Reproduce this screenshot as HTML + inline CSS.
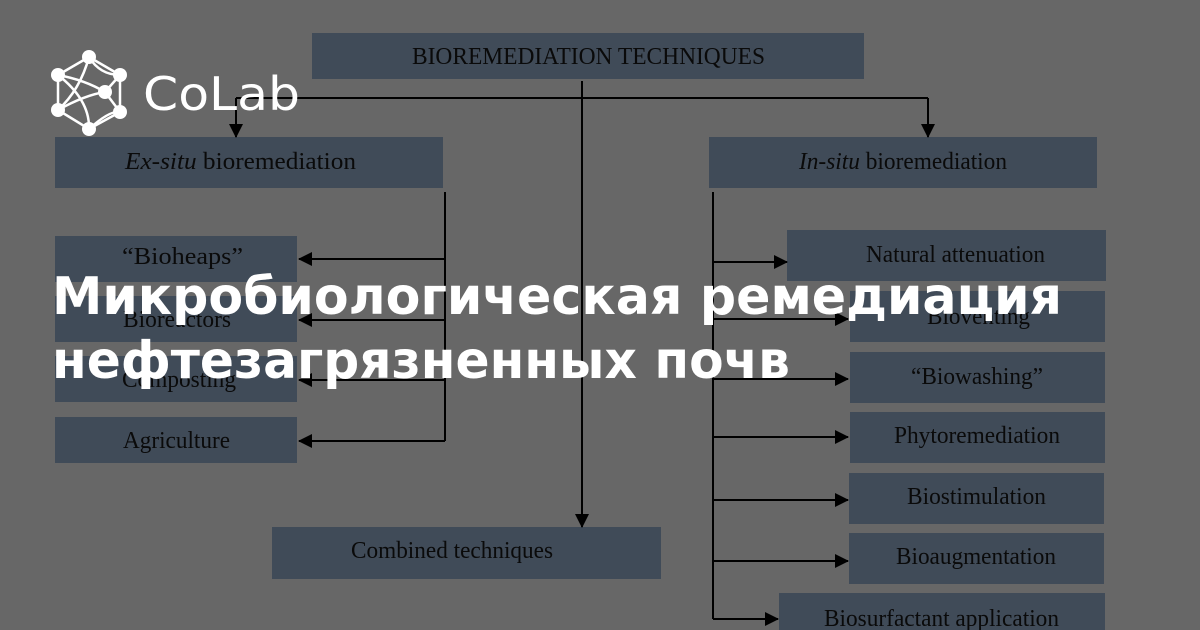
<!DOCTYPE html>
<html><head><meta charset="utf-8"><style>
html,body{margin:0;padding:0;background:#676767;}
svg{display:block}
</style></head><body>
<svg width="1200" height="630" viewBox="0 0 1200 630" xmlns="http://www.w3.org/2000/svg">
<defs>
<marker id="b" markerWidth="14" markerHeight="14" refX="13" refY="7" orient="auto" markerUnits="userSpaceOnUse">
<path d="M0,0 L14,7 L0,14 z" fill="#000"/>
</marker>
</defs>
<rect width="1200" height="630" fill="#676767"/>
<g fill="#404b58">
<rect x="312" y="33" width="552" height="46"/>
<rect x="55" y="137" width="388" height="51"/>
<rect x="709" y="137" width="388" height="51"/>
<rect x="55" y="236" width="242" height="46"/>
<rect x="55" y="296" width="242" height="46"/>
<rect x="55" y="356" width="242" height="46"/>
<rect x="55" y="417" width="242" height="46"/>
<rect x="787" y="230" width="319" height="51"/>
<rect x="850" y="291" width="255" height="51"/>
<rect x="850" y="352" width="255" height="51"/>
<rect x="850" y="412" width="255" height="51"/>
<rect x="849" y="473" width="255" height="51"/>
<rect x="849" y="533" width="255" height="51"/>
<rect x="779" y="593" width="326" height="40"/>
<rect x="272" y="527" width="389" height="52"/>
</g>
<g stroke="#000" stroke-width="2" fill="none">
<line x1="236" y1="98" x2="928" y2="98"/>
<line x1="236" y1="98" x2="236" y2="137" marker-end="url(#b)"/>
<line x1="928" y1="98" x2="928" y2="137" marker-end="url(#b)"/>
<line x1="582" y1="81" x2="582" y2="527" marker-end="url(#b)"/>
<line x1="445" y1="192" x2="445" y2="441"/>
<line x1="445" y1="259" x2="299" y2="259" marker-end="url(#b)"/>
<line x1="445" y1="320" x2="299" y2="320" marker-end="url(#b)"/>
<line x1="445" y1="380" x2="299" y2="380" marker-end="url(#b)"/>
<line x1="445" y1="441" x2="299" y2="441" marker-end="url(#b)"/>
<line x1="713" y1="192" x2="713" y2="619"/>
<line x1="713" y1="262" x2="787" y2="262" marker-end="url(#b)"/>
<line x1="713" y1="319" x2="848" y2="319" marker-end="url(#b)"/>
<line x1="713" y1="379" x2="848" y2="379" marker-end="url(#b)"/>
<line x1="713" y1="437" x2="848" y2="437" marker-end="url(#b)"/>
<line x1="713" y1="500" x2="848" y2="500" marker-end="url(#b)"/>
<line x1="713" y1="561" x2="848" y2="561" marker-end="url(#b)"/>
<line x1="713" y1="619" x2="778" y2="619" marker-end="url(#b)"/>
</g>
<g font-family="'Liberation Serif', serif" font-size="24" fill="#0a0a0a" lengthAdjust="spacingAndGlyphs">
<text x="412" y="64" textLength="353" lengthAdjust="spacingAndGlyphs">BIOREMEDIATION TECHNIQUES</text>
<text x="125" y="169" textLength="231" lengthAdjust="spacingAndGlyphs"><tspan font-style="italic">Ex-situ</tspan> bioremediation</text>
<text x="799" y="169" textLength="208" lengthAdjust="spacingAndGlyphs"><tspan font-style="italic">In-situ</tspan> bioremediation</text>
<text x="122" y="264" textLength="121" lengthAdjust="spacingAndGlyphs">“Bioheaps”</text>
<text x="123" y="327" textLength="108" lengthAdjust="spacingAndGlyphs">Bioreactors</text>
<text x="122" y="387" textLength="114" lengthAdjust="spacingAndGlyphs">Composting</text>
<text x="123" y="448" textLength="107" lengthAdjust="spacingAndGlyphs">Agriculture</text>
<text x="866" y="262" textLength="179" lengthAdjust="spacingAndGlyphs">Natural attenuation</text>
<text x="927" y="324" textLength="103" lengthAdjust="spacingAndGlyphs">Bioventing</text>
<text x="911" y="384" textLength="132" lengthAdjust="spacingAndGlyphs">“Biowashing”</text>
<text x="894" y="443" textLength="166" lengthAdjust="spacingAndGlyphs">Phytoremediation</text>
<text x="907" y="504" textLength="139" lengthAdjust="spacingAndGlyphs">Biostimulation</text>
<text x="896" y="564" textLength="160" lengthAdjust="spacingAndGlyphs">Bioaugmentation</text>
<text x="824" y="626" textLength="235" lengthAdjust="spacingAndGlyphs">Biosurfactant application</text>
<text x="351" y="558" textLength="202" lengthAdjust="spacingAndGlyphs">Combined techniques</text>
</g>
<g stroke="#fff" stroke-width="2.5" fill="none">
<path d="M89,57 L120,75 L120,112 L89,129 L58,110 L58,75 Z"/>
<path d="M89,57 Q80,90 58,110"/>
<path d="M58,75 Q90,100 89,129"/>
<path d="M58,75 Q85,80 105,92 L120,75"/>
<path d="M58,110 Q85,95 105,92 L120,112"/>
<path d="M89,57 Q100,75 120,75"/>
<path d="M89,129 Q110,110 120,112"/>
</g>
<g fill="#fff">
<circle cx="89" cy="57" r="7"/><circle cx="120" cy="75" r="7"/><circle cx="58" cy="75" r="7"/>
<circle cx="105" cy="92" r="7"/><circle cx="58" cy="110" r="7"/><circle cx="120" cy="112" r="7"/>
<circle cx="89" cy="129" r="7"/>
</g>
<text x="143" y="110" font-family="'DejaVu Sans', sans-serif" font-weight="normal" font-size="46" fill="#fff" textLength="157" lengthAdjust="spacingAndGlyphs">CoLab</text>
<g font-family="'DejaVu Sans','Liberation Sans', sans-serif" font-weight="bold" font-size="52" fill="#fff">
<text x="52" y="314" textLength="1010" lengthAdjust="spacingAndGlyphs">Микробиологическая ремедиация</text>
<text x="52" y="378" textLength="738" lengthAdjust="spacingAndGlyphs">нефтезагрязненных почв</text>
</g>
</svg>
</body></html>
